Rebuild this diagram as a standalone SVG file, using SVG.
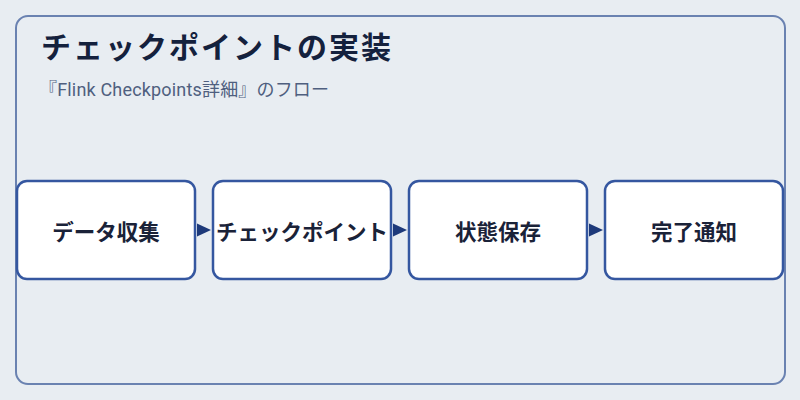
<svg xmlns="http://www.w3.org/2000/svg" width="800" height="400" viewBox="0 0 800 400">
  <style>
    .frame { fill: #e8edf2; stroke: #6a82b1; stroke-width: 2; }
    .node rect { fill: #ffffff; stroke: #3557a0; stroke-width: 2.5; }
    .node text { font-family: "Noto Sans CJK JP", "Noto Sans", sans-serif; font-size: 21.5px; font-weight: bold; fill: #1a2238; text-anchor: middle; dominant-baseline: central; }
    .title { font-family: "Noto Sans CJK JP", "Noto Sans", sans-serif; font-size: 30px; font-weight: bold; fill: #14213d; }
    .subtitle { font-family: "Roboto", "Noto Sans CJK JP", sans-serif; font-size: 18px; fill: #4f5f7f; }
  </style>
  <defs>
    <marker id="arrow" markerWidth="14" markerHeight="14" refX="14" refY="7" orient="auto" markerUnits="userSpaceOnUse">
      <path d="M0,0.5 L14,7 L0,13.5 Z" fill="#1e3a7a"/>
    </marker>
  </defs>
  <rect width="800" height="400" fill="#e8edf2"/>
  <rect class="frame" x="16" y="16" width="769" height="368" rx="12"/>
  <text class="title" x="41" y="58" letter-spacing="2">チェックポイントの実装</text>
  <text class="subtitle" x="39" y="96" textLength="290" lengthAdjust="spacing">『Flink Checkpoints詳細』のフロー</text>

  <g id="connectors">
    <line x1="197" y1="230" x2="211" y2="230" stroke="#1e3a7a" stroke-width="2" stroke-opacity="0" marker-end="url(#arrow)"/>
    <line x1="393" y1="230" x2="407" y2="230" stroke="#1e3a7a" stroke-width="2" stroke-opacity="0" marker-end="url(#arrow)"/>
    <line x1="589" y1="230" x2="603" y2="230" stroke="#1e3a7a" stroke-width="2" stroke-opacity="0" marker-end="url(#arrow)"/>
  </g>

  <g id="node1" class="node">
    <rect x="17" y="181" width="178" height="98" rx="10"/>
    <text x="106" y="230">データ収集</text>
  </g>
  <g id="node2" class="node">
    <rect x="213" y="181" width="178" height="98" rx="10"/>
    <text x="302" y="230">チェックポイント</text>
  </g>
  <g id="node3" class="node">
    <rect x="409" y="181" width="178" height="98" rx="10"/>
    <text x="498" y="230">状態保存</text>
  </g>
  <g id="node4" class="node">
    <rect x="605" y="181" width="178" height="98" rx="10"/>
    <text x="694" y="230">完了通知</text>
  </g>
</svg>
